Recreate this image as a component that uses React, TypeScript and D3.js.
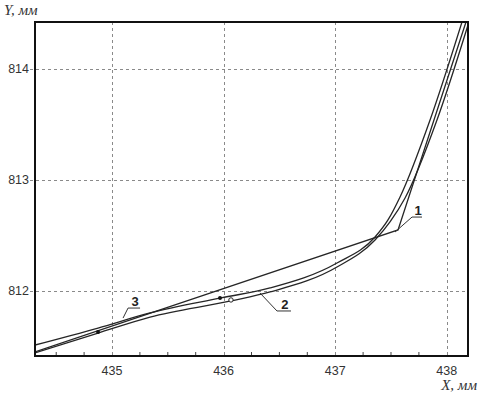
import React, { useEffect, useRef } from 'react';
import * as d3 from 'd3';

// Оси
const xDomain = [434.31, 438.19];
const yDomain = [811.41, 814.42];
const xTicks = [435, 436, 437, 438];
const yTicks = [812, 813, 814];
const xMinorStep = 0.25;

// Кривая 1 (ломаная)
const curve1X = [434.31, 437.563, 438.172];
const curve1Y = [811.446, 812.546, 814.42];

// Кривая 2
const curve2X = [434.31, 434.875, 435.341, 436.066, 436.416, 437.016, 437.357, 437.491, 437.626, 437.912, 438.19];
const curve2Y = [811.437, 811.617, 811.761, 811.906, 811.987, 812.212, 812.455, 812.618, 812.834, 813.537, 814.393];

// Кривая 3
const curve3X = [434.31, 434.875, 435.341, 435.977, 436.416, 437.016, 437.357, 437.473, 437.581, 437.85, 438.136];
const curve3Y = [811.509, 811.662, 811.798, 811.933, 812.023, 812.248, 812.482, 812.636, 812.843, 813.537, 814.42];

// Точки
const pointsX = [434.875, 435.968, 436.066];
const pointsY = [811.626, 811.933, 811.915];
const pointKinds = ['dot', 'dot', 'ring'];

// Выноски
const labelNames = ['1', '2', '3'];
const labelAnchorX = [437.536, 436.326, 435.099];
const labelAnchorY = [812.527, 811.978, 811.752];

const App = () => {
  const svgRef = useRef(null);
  const width = 479;
  const height = 395;
  const margin = { top: 22, right: 11, bottom: 39, left: 35 };

  useEffect(() => {
    const svg = d3.select(svgRef.current);
    svg.selectAll('*').remove();

    const x = d3.scaleLinear().domain(xDomain).range([margin.left, width - margin.right]);
    const y = d3.scaleLinear().domain(yDomain).range([height - margin.bottom, margin.top]);
    const [x0, x1] = x.range();
    const [y0, y1] = y.range();

    svg.append('rect').attr('width', width).attr('height', height).attr('fill', '#fff');

    svg.append('clipPath').attr('id', 'plot-clip')
      .append('rect')
      .attr('x', x0).attr('y', y1)
      .attr('width', x1 - x0).attr('height', y0 - y1);

    // Сетка
    const grid = svg.append('g').attr('stroke', '#8a8a8a').attr('stroke-width', 1).attr('stroke-dasharray', '3,3');
    xTicks.forEach(t => {
      grid.append('line')
        .attr('x1', Math.round(x(t)) + 0.5).attr('x2', Math.round(x(t)) + 0.5)
        .attr('y1', y1).attr('y2', y0);
    });
    yTicks.forEach(t => {
      grid.append('line')
        .attr('x1', x0 - 5).attr('x2', x1)
        .attr('y1', Math.round(y(t)) + 0.5).attr('y2', Math.round(y(t)) + 0.5);
    });

    // Мелкие засечки по X
    const minor = d3.range(Math.ceil(xDomain[0] / xMinorStep) * xMinorStep, xDomain[1], xMinorStep)
      .filter(v => !xTicks.includes(v));
    svg.append('g').selectAll('line').data(minor).enter().append('line')
      .attr('x1', d => x(d)).attr('x2', d => x(d))
      .attr('y1', y0).attr('y2', y0 - 4)
      .attr('stroke', '#444').attr('stroke-width', 1);

    // Кривые
    const plot = svg.append('g').attr('clip-path', 'url(#plot-clip)');
    const toPts = (xs, ys) => xs.map((v, i) => [v, ys[i]]);
    const linear = d3.line().x(d => x(d[0])).y(d => y(d[1]));
    const smooth = d3.line().x(d => x(d[0])).y(d => y(d[1])).curve(d3.curveMonotoneX);

    [
      [toPts(curve1X, curve1Y), linear],
      [toPts(curve2X, curve2Y), smooth],
      [toPts(curve3X, curve3Y), smooth]
    ].forEach(([pts, gen]) => {
      plot.append('path')
        .attr('d', gen(pts))
        .attr('fill', 'none')
        .attr('stroke', '#262626')
        .attr('stroke-width', 1.3);
    });

    // Точки
    pointsX.forEach((px, i) => {
      const c = plot.append('circle')
        .attr('cx', x(px)).attr('cy', y(pointsY[i]))
        .attr('r', pointKinds[i] === 'dot' ? 2 : 2.2);
      if (pointKinds[i] === 'dot') c.attr('fill', '#111');
      else c.attr('fill', '#fff').attr('stroke', '#222').attr('stroke-width', 1);
    });

    // Выноски
    const leader = [
      { dx: 17, dy: -15, len: 10 },
      { dx: 17, dy: 18, len: 14 },
      { dx: 5, dy: -10, len: 12 }
    ];
    labelNames.forEach((name, i) => {
      const ax = x(labelAnchorX[i]);
      const ay = y(labelAnchorY[i]);
      const ex = ax + leader[i].dx;
      const ey = ay + leader[i].dy;
      svg.append('polyline')
        .attr('points', `${ax},${ay} ${ex},${ey} ${ex + leader[i].len},${ey}`)
        .attr('fill', 'none')
        .attr('stroke', '#333')
        .attr('stroke-width', 1);
      svg.append('text')
        .attr('x', ex + leader[i].len / 2 + 1)
        .attr('y', ey - 2)
        .attr('text-anchor', 'middle')
        .attr('font-family', 'Arial, "Liberation Sans", sans-serif')
        .attr('font-size', 13)
        .attr('font-weight', 'bold')
        .attr('fill', '#222')
        .text(name);
    });

    // Рамка
    svg.append('rect')
      .attr('x', x0).attr('y', y1)
      .attr('width', x1 - x0).attr('height', y0 - y1)
      .attr('fill', 'none')
      .attr('stroke', '#111')
      .attr('stroke-width', 2);

    // Подписи делений
    const tickFont = 'Arial, "Liberation Sans", sans-serif';
    svg.append('g').selectAll('text').data(xTicks).enter().append('text')
      .attr('x', d => x(d)).attr('y', y0 + 19)
      .attr('text-anchor', 'middle')
      .attr('font-family', tickFont).attr('font-size', 12.5).attr('fill', '#333')
      .text(d => d);
    svg.append('g').selectAll('text').data(yTicks).enter().append('text')
      .attr('x', x0 - 6).attr('y', d => y(d) + 4)
      .attr('text-anchor', 'end')
      .attr('font-family', tickFont).attr('font-size', 12.5).attr('fill', '#333')
      .text(d => d);

    // Названия осей
    const titleFont = '"Times New Roman", "Liberation Serif", serif';
    svg.append('text')
      .attr('x', 4).attr('y', 15)
      .attr('font-family', titleFont).attr('font-style', 'italic').attr('font-size', 15).attr('fill', '#333')
      .text('Y, мм');
    svg.append('text')
      .attr('x', width - 2).attr('y', 390)
      .attr('text-anchor', 'end')
      .attr('font-family', titleFont).attr('font-style', 'italic').attr('font-size', 15).attr('fill', '#333')
      .text('X, мм');
  }, []);

  return (
    <svg ref={svgRef} width={width} height={height}
      style={{ position: 'fixed', left: 0, top: 0, display: 'block' }} />
  );
};

export default App;
